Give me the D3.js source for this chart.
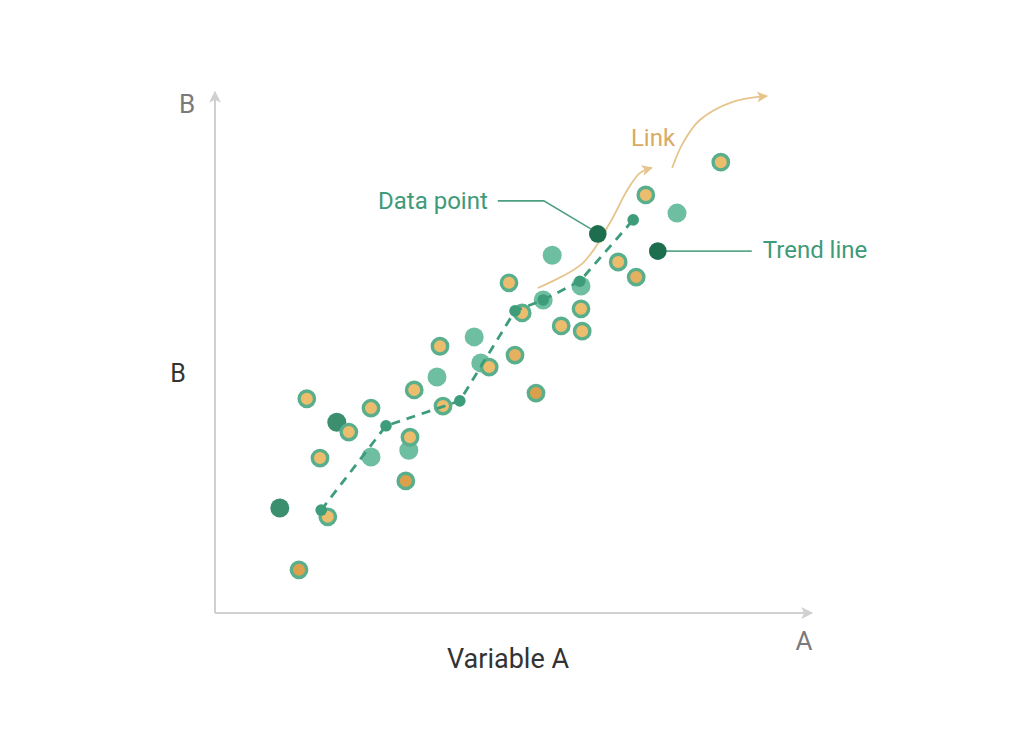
<!DOCTYPE html>
<html>
<head>
<meta charset="utf-8">
<script src="https://cdn.jsdelivr.net/npm/d3@7"></script>
<style>
  html, body { margin: 0; padding: 0; background: #ffffff; }
  svg { display: block; font-family: Roboto, "Noto Sans", sans-serif; }
</style>
</head>
<body>
<svg id="chart" width="1024" height="747"></svg>
<script>
// ---- data (x = Variable A, y = B, both on a 0-100 scale) ----
const samplePoints = [
  [15.3, 41.2, "light"], [17.5, 29.8, "light"], [18.8, 18.5, "light"], [14.0, 8.3, "deep"],
  [22.3, 34.8, "light"], [26.0, 39.4, "light"], [32.5, 33.8, "light"], [31.8, 25.4, "deep"],
  [33.2, 42.9, "light"], [37.5, 51.3, "light"], [38.0, 39.8, "light"], [45.7, 47.3, "light"],
  [50.0, 49.6, "mid"],   [49.0, 63.5, "light"], [51.2, 57.7, "light"], [53.5, 42.3, "deep"],
  [57.7, 55.2, "light"], [61.0, 58.5, "light"], [61.2, 54.2, "light"], [67.2, 67.5, "light"],
  [70.2, 64.6, "mid"],   [71.8, 80.4, "light"], [84.3, 86.7, "light"]
];
const tealPoints = [
  [20.3, 36.7, "dark"], [26.0, 30.0, "light"], [10.8, 20.2, "dark"], [32.3, 31.3, "light"],
  [37.0, 45.4, "light"], [43.2, 53.1, "light"], [44.3, 48.1, "light"], [54.7, 60.2, "light"],
  [56.2, 68.8, "light"], [77.0, 76.9, "light"], [61.0, 62.9, "light"]
];
const highlightPoints = [
  [63.8, 72.9, "Data point"],
  [73.8, 69.6, "Trend line"]
];
const trendPoints = [
  [17.7, 19.8], [28.5, 36.0], [40.8, 40.8], [50.0, 58.1], [54.7, 60.2], [60.8, 63.8], [69.7, 75.6]
];
const linkPaths = [
  [[53.8, 62.5], [61.3, 67.3], [65.8, 75.0], [68.7, 81.3], [70.8, 84.6], [72.8, 85.6]],
  [[76.2, 85.6], [78.0, 90.4], [80.8, 94.8], [86.3, 98.3], [92.0, 99.4]]
];
const axisLabels = { xEnd: "A", yEnd: "B", x: "Variable A", y: "B", link: "Link" };

// ---- layout ----
const svg = d3.select("#chart");
const x = d3.scaleLinear().domain([0, 100]).range([215, 815]);
const y = d3.scaleLinear().domain([0, 100]).range([613, 93]);

const C = {
  axis: "#d0d0d0",
  orange: "#ecbd6c", orangeDeep: "#dca04c", orangeMid: "#e5b060",
  ring: "#59ae8c",
  teal: "#66ba9c", tealDark: "#3b8f6f",
  hi: "#1c6e4f",
  trend: "#3d9c79",
  link: "#e6c58c", linkText: "#d8aa62",
  label: "#3f9a79"
};

const defs = svg.append("defs");
function marker(id, color, w, h) {
  defs.append("marker").attr("id", id)
    .attr("viewBox", "0 0 10 10").attr("refX", 9).attr("refY", 5)
    .attr("markerUnits", "userSpaceOnUse")
    .attr("markerWidth", w).attr("markerHeight", h)
    .attr("orient", "auto")
    .append("path").attr("d", "M0,0 L10,5 L0,10 L2.5,5 Z").attr("fill", color);
}
marker("axArrow", C.axis, 13, 12);
marker("lkArrow", C.link, 12, 11);

// axes via d3 axes (no ticks)
const gx = svg.append("g").attr("transform", `translate(0,${y(0)})`)
  .call(d3.axisBottom(x).tickValues([]).tickSizeOuter(0));
const gy = svg.append("g").attr("transform", `translate(${x(0)},0)`)
  .call(d3.axisLeft(y).tickValues([]).tickSizeOuter(0));
[gx, gy].forEach(g => g.select(".domain")
  .attr("stroke", C.axis).attr("stroke-width", 2).attr("marker-end", "url(#axArrow)"));
gx.select(".domain").attr("d", `M${x(0)},0H${x(99.5)}`);
gy.select(".domain").attr("d", `M0,${y(0)}V${y(100.2)}`);

// axis texts
svg.append("text").attr("x", 187).attr("y", 113).attr("text-anchor", "middle")
  .attr("font-size", 26).attr("fill", "#7a7a7a").text(axisLabels.yEnd);
svg.append("text").attr("x", 178).attr("y", 382).attr("text-anchor", "middle")
  .attr("font-size", 25).attr("fill", "#333").text(axisLabels.y);
svg.append("text").attr("x", 804).attr("y", 650).attr("text-anchor", "middle")
  .attr("font-size", 26).attr("fill", "#7a7a7a").text(axisLabels.xEnd);
svg.append("text").attr("x", 508).attr("y", 668).attr("text-anchor", "middle")
  .attr("font-size", 27).attr("fill", "#333").text(axisLabels.x);

// teal circles
svg.append("g").selectAll("circle").data(tealPoints).join("circle")
  .attr("cx", d => x(d[0])).attr("cy", d => y(d[1])).attr("r", 9.5)
  .attr("fill", d => d[2] === "dark" ? C.tealDark : C.teal)
  .attr("fill-opacity", d => d[2] === "dark" ? 1 : 0.95);

// sample (orange ringed) circles
svg.append("g").selectAll("circle").data(samplePoints).join("circle")
  .attr("cx", d => x(d[0])).attr("cy", d => y(d[1])).attr("r", 7.7)
  .attr("fill", d => d[2] === "deep" ? C.orangeDeep : d[2] === "mid" ? C.orangeMid : C.orange)
  .attr("stroke", C.ring).attr("stroke-width", 3.4);

// link curves
const linkLine = d3.line().x(d => x(d[0])).y(d => y(d[1])).curve(d3.curveCatmullRom.alpha(0.5));
svg.append("g").selectAll("path").data(linkPaths).join("path")
  .attr("d", linkLine).attr("fill", "none")
  .attr("stroke", C.link).attr("stroke-width", 1.8)
  .attr("marker-end", "url(#lkArrow)");
svg.append("text").attr("x", 653).attr("y", 146).attr("text-anchor", "middle")
  .attr("font-size", 24).attr("fill", C.linkText).text(axisLabels.link);

// trend line
const trendLine = d3.line().x(d => x(d[0])).y(d => y(d[1]));
svg.append("path").datum(trendPoints).attr("d", trendLine)
  .attr("fill", "none").attr("stroke", C.trend).attr("stroke-width", 2.8)
  .attr("stroke-dasharray", "9,7");
svg.append("g").selectAll("circle").data(trendPoints).join("circle")
  .attr("cx", d => x(d[0])).attr("cy", d => y(d[1])).attr("r", 5.8)
  .attr("fill", C.trend);

// highlighted points + annotations
const dp = highlightPoints[0], tl = highlightPoints[1];
const dpx = x(dp[0]), dpy = y(dp[1]), tlx = x(tl[0]), tly = y(tl[1]);
svg.append("path")
  .attr("d", `M${dpx - 100},${dpy - 33}H${dpx - 54}L${dpx - 7},${dpy - 5}`)
  .attr("fill", "none").attr("stroke", "#4e9e80").attr("stroke-width", 1.6);
svg.append("path")
  .attr("d", `M${tlx},${tly}H${tlx + 94}`)
  .attr("fill", "none").attr("stroke", "#5aa98a").attr("stroke-width", 1.6);
svg.append("g").selectAll("circle").data(highlightPoints).join("circle")
  .attr("cx", d => x(d[0])).attr("cy", d => y(d[1])).attr("r", 8.8)
  .attr("fill", C.hi);
svg.append("text").attr("x", dpx - 110).attr("y", dpy - 25).attr("text-anchor", "end")
  .attr("font-size", 24).attr("fill", C.label).text(dp[2]);
svg.append("text").attr("x", tlx + 105).attr("y", tly + 7)
  .attr("font-size", 24).attr("fill", C.label).text(tl[2]);
</script>
</body>
</html>
